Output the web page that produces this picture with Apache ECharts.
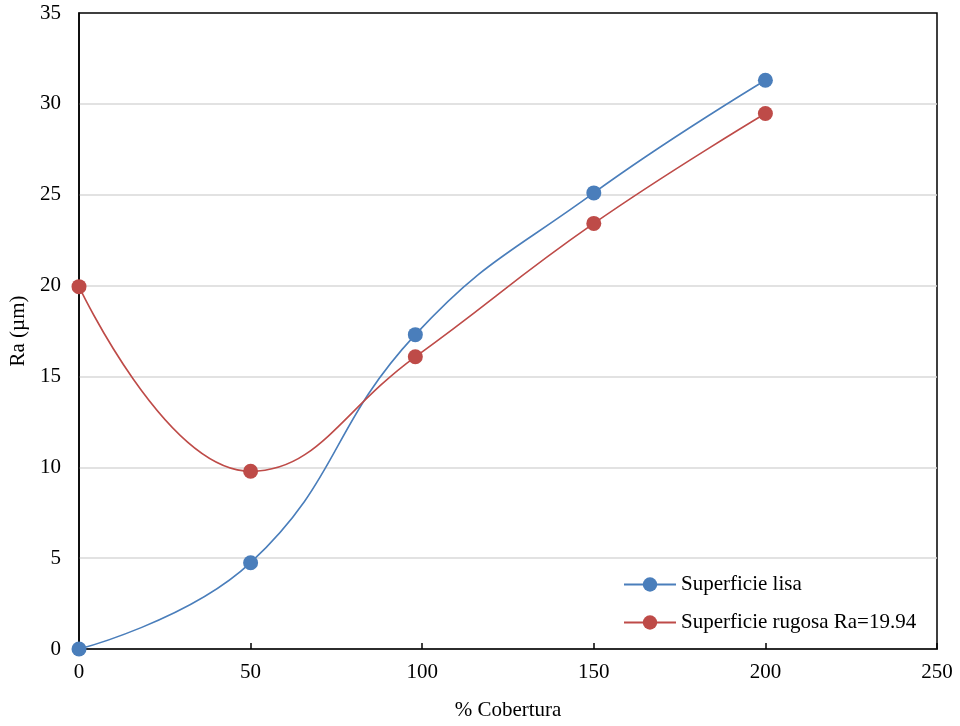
<!DOCTYPE html>
<html><head><meta charset="utf-8">
<script src="https://cdn.jsdelivr.net/npm/echarts@6/dist/echarts.min.js"></script>
<style>html,body{margin:0;padding:0;background:#fff}#c{width:960px;height:726px}</style>
</head><body><div id="c"></div>
<script>
const xValues = [0, 50, 98, 150, 200];
const lisa = [0, 4.75, 17.3, 25.1, 31.3];
const rugosa = [19.94, 9.78, 16.08, 23.42, 29.47];
const seriesNames = ['Superficie lisa', 'Superficie rugosa Ra=19.94'];
const xTitle = '% Cobertura';
const yTitle = 'Ra (µm)';

const font = 'Liberation Serif';
const chart = echarts.init(document.getElementById('c'));
function mk(name, vals, color) {
  return {
    name, type: 'line', smooth: 0.45,
    data: xValues.map((x, i) => [x, vals[i]]),
    symbol: 'circle', symbolSize: 15,
    lineStyle: { color, width: 1.6 },
    itemStyle: { color },
    emphasis: { disabled: true }
  };
}
chart.setOption({
  animation: false,
  textStyle: { fontFamily: font },
  grid: { left: 78, right: 23, top: 13, bottom: 75, show: true, borderColor: '#000', borderWidth: 1.5, backgroundColor: 'transparent' },
  legend: {
    orient: 'vertical', left: 618, top: 569, itemGap: 17, itemWidth: 52, itemHeight: 18,
    textStyle: { fontFamily: font, fontSize: 21, color: '#000' },
    data: seriesNames
  },
  xAxis: {
    type: 'value', min: 0, max: 250, interval: 50,
    name: xTitle, nameLocation: 'middle', nameGap: 51,
    nameTextStyle: { fontFamily: font, fontSize: 21, color: '#000' },
    axisLine: { show: true, lineStyle: { color: '#000', width: 1.5 } },
    axisTick: { show: true, inside: true, length: 6, lineStyle: { color: '#000', width: 1.5 } },
    axisLabel: { fontFamily: font, fontSize: 21, color: '#000', margin: 13 },
    splitLine: { show: false }
  },
  yAxis: {
    type: 'value', min: 0, max: 35, interval: 5,
    name: yTitle, nameLocation: 'middle', nameGap: 50,
    nameTextStyle: { fontFamily: font, fontSize: 21, color: '#000' },
    axisLine: { show: true, lineStyle: { color: '#000', width: 1.5 } },
    axisTick: { show: false },
    axisLabel: { fontFamily: font, fontSize: 21, color: '#000', margin: 18 },
    splitLine: { show: true, showMaxLine: false, lineStyle: { color: '#d9d9d9', width: 1.5 } }
  },
  series: [mk(seriesNames[0], lisa, '#4a7ebb'), mk(seriesNames[1], rugosa, '#be4b48')]
});
</script></body></html>
